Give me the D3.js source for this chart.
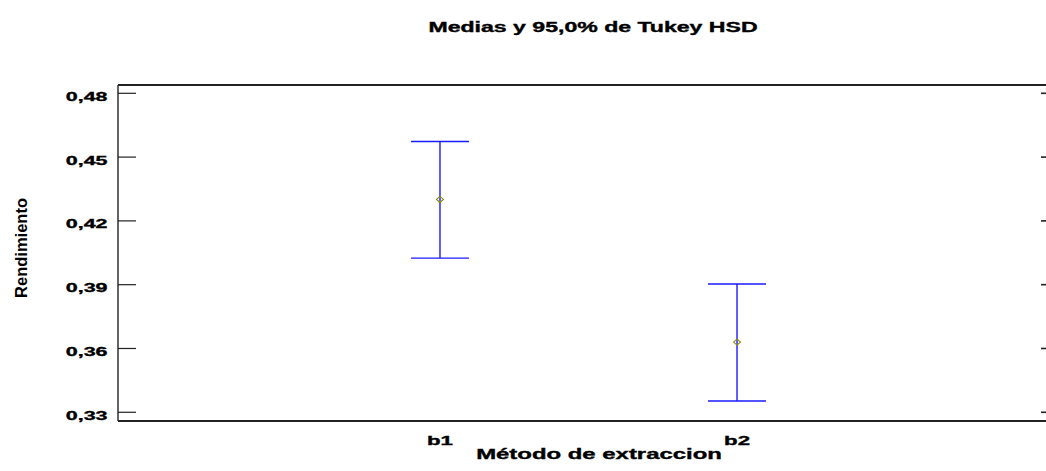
<!DOCTYPE html>
<html>
<head>
<meta charset="utf-8">
<script src="https://cdn.jsdelivr.net/npm/d3@7"></script>
<style>
  body { margin: 0; background: #fff; overflow: hidden; }
  svg { display: block; font-family: "Liberation Sans", Arial, sans-serif; }
</style>
</head>
<body>
<svg id="chart" width="1046" height="471"></svg>
<script>
// values
var categories = ["b1", "b2"];
var means = [0.4301, 0.3630];
var lowerLimits = [0.4025, 0.3353];
var upperLimits = [0.4573, 0.3903];
var yTicks = [0.33, 0.36, 0.39, 0.42, 0.45, 0.48];

var svg = d3.select("#chart");
var plotLeft = 118, plotRight = 1059, plotTop = 85, plotBottom = 421;
var stretch = 1.65; // text in the reference is wider than normal

var x = d3.scalePoint()
    .domain(categories)
    .range([plotLeft, plotRight])
    .padding(1.084);

var y = d3.scaleLinear()
    .domain([0.3259, 0.4839])
    .range([plotBottom, plotTop]);

var fmt = function(v) { return d3.format(".2f")(v).replace(".", ","); };

// stretched text helper
function label(px, py, txt, size, anchor) {
    svg.append("g")
        .attr("transform", "translate(" + px + "," + py + ") scale(" + stretch + ",1)")
        .append("text")
        .attr("text-anchor", anchor)
        .attr("font-size", size)
        .attr("font-weight", "bold")
        .attr("fill", "#000")
        .attr("stroke", "#000")
        .attr("stroke-width", 0.35)
        .text(txt);
}

// frame (right side falls outside the picture)
var frame = svg.append("g")
    .attr("stroke", "#222")
    .attr("stroke-width", 1.8);
frame.append("line").attr("x1", plotLeft).attr("x2", plotRight).attr("y1", plotTop).attr("y2", plotTop);
frame.append("line").attr("x1", plotLeft).attr("x2", plotRight).attr("y1", plotBottom).attr("y2", plotBottom);
frame.append("line").attr("x1", plotLeft).attr("x2", plotLeft).attr("y1", plotTop).attr("y2", plotBottom)
    .attr("stroke-width", 1.4);

// y ticks, left and right, pointing inside
yTicks.forEach(function(t) {
    svg.append("line")
        .attr("x1", plotLeft).attr("x2", plotLeft + 18)
        .attr("y1", y(t)).attr("y2", y(t))
        .attr("stroke", "#222").attr("stroke-width", 1.2);
    svg.append("line")
        .attr("x1", plotRight - 18).attr("x2", plotRight)
        .attr("y1", y(t)).attr("y2", y(t))
        .attr("stroke", "#222").attr("stroke-width", 1.6);
    label(107.5, y(t) + 7.5, fmt(t), 13, "end");
});

// error bars
var bars = svg.selectAll(".bar")
    .data(categories)
    .join("g")
    .attr("class", "bar");

var capHalf = 29;
bars.append("line")
    .attr("x1", d => x(d)).attr("x2", d => x(d))
    .attr("y1", (d, i) => y(upperLimits[i]))
    .attr("y2", (d, i) => y(lowerLimits[i]))
    .attr("stroke", "#1a1aff").attr("stroke-width", 1.4);
bars.append("line")
    .attr("x1", d => x(d) - capHalf).attr("x2", d => x(d) + capHalf)
    .attr("y1", (d, i) => y(upperLimits[i]))
    .attr("y2", (d, i) => y(upperLimits[i]))
    .attr("stroke", "#1a1aff").attr("stroke-width", 1.4);
bars.append("line")
    .attr("x1", d => x(d) - capHalf).attr("x2", d => x(d) + capHalf)
    .attr("y1", (d, i) => y(lowerLimits[i]))
    .attr("y2", (d, i) => y(lowerLimits[i]))
    .attr("stroke", "#1a1aff").attr("stroke-width", 1.4);

// mean markers (small diamonds)
bars.append("path")
    .attr("d", (d, i) => {
        var cx = x(d), cy = y(means[i]);
        return "M" + (cx - 3.5) + "," + cy + "L" + cx + "," + (cy - 3) +
               "L" + (cx + 3.5) + "," + cy + "L" + cx + "," + (cy + 3) + "Z";
    })
    .attr("fill", "none")
    .attr("stroke", "#8c8c00")
    .attr("stroke-width", 1.1);

// category labels
categories.forEach(function(c) {
    label(x(c), 445, c, 13.5, "middle");
});

// titles
label(593, 32, "Medias y 95,0% de Tukey HSD", 14, "middle");
label(599, 459, "Método de extraccion", 14.5, "middle");

svg.append("text")
    .attr("transform", "translate(27,248) rotate(-90)")
    .attr("text-anchor", "middle")
    .attr("font-size", 16.5)
    .attr("font-weight", "bold")
    .attr("fill", "#000")
    .text("Rendimiento");
</script>
</body>
</html>
